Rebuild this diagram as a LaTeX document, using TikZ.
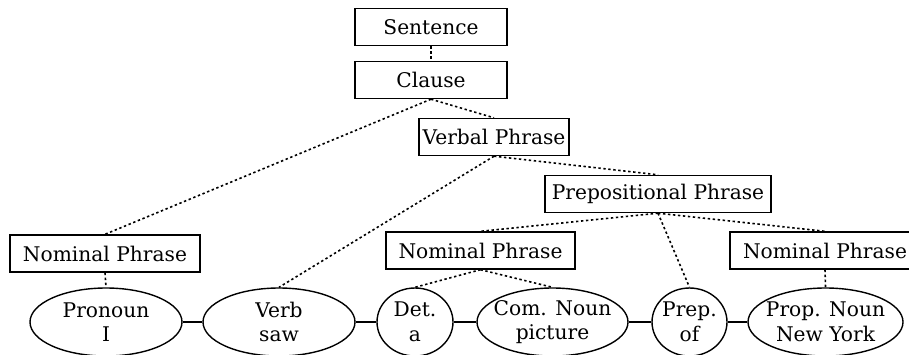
\documentclass[tikz,border=0pt]{standalone}
\usepackage{fontspec}
\setmainfont{DejaVu Serif}
\usetikzlibrary{shapes.geometric}
\newcommand{\zw}[1]{\makebox[0pt]{#1}}
\begin{document}
\begin{tikzpicture}[x=1pt,y=-1pt,
  every node/.style={font=\fontsize{20.2}{24.5}\selectfont, inner sep=0pt},
  phrase/.style={draw, line width=1.4pt, minimum height=37pt},
  word/.style={draw, ellipse, line width=1.4pt, minimum height=68pt, align=center},
  tree/.style={line width=1.6pt, dash pattern=on 2.4pt off 2.6pt},
  link/.style={line width=1.4pt}]
\useasboundingbox (0,0) rectangle (909,354);
\node[phrase, minimum width=152pt] (s) at (431,27) {Sentence};
\node[phrase, minimum width=152pt] (c) at (431,80) {Clause};
\node[phrase, minimum width=150pt] (vp) at (494,137) {Verbal Phrase};
\node[phrase, minimum width=226pt] (pp) at (658,194) {Prepositional Phrase};
\node[phrase, minimum width=190pt] (np1) at (105,253.5) {Nominal Phrase};
\node[phrase, minimum width=189pt] (np2) at (480.5,250.5) {Nominal Phrase};
\node[phrase, minimum width=190pt] (np3) at (825,250.5) {Nominal Phrase};
\node[word, minimum width=152pt] (pron) at (106,322) {\zw{Pronoun}\\\zw{I}};
\node[word, minimum width=152pt] (verb) at (279,322) {\zw{Verb}\\\zw{saw}};
\node[word, minimum width=76pt] (det) at (415,322) {\zw{Det.}\\\zw{a}};
\node[word, minimum width=151pt] (cn) at (552.5,322) {\zw{Com. Noun}\\\zw{picture}};
\node[word, minimum width=75pt] (prep) at (689.5,322) {\zw{Prep.}\\\zw{of}};
\node[word, minimum width=155pt] (prn) at (825.5,322) {\zw{Prop. Noun}\\\zw{New York}};
\draw[tree] (s.south) -- (c.north);
\draw[tree] (c.south) -- (vp.north);
\draw[tree] (c.south) -- (np1.north);
\draw[tree] (vp.south) -- (verb.north);
\draw[tree] (vp.south) -- (pp.north);
\draw[tree] (pp.south) -- (np2.north);
\draw[tree] (pp.south) -- (prep.north);
\draw[tree] (pp.south) -- (np3.north);
\draw[tree] (np1.south) -- (pron.north);
\draw[tree] (np2.south) -- (det.north);
\draw[tree] (np2.south) -- (cn.north);
\draw[tree] (np3.south) -- (prn.north);
\draw[link] (pron.east) -- (verb.west);
\draw[link] (verb.east) -- (det.west);
\draw[link] (det.east) -- (cn.west);
\draw[link] (cn.east) -- (prep.west);
\draw[link] (prep.east) -- (prn.west);
\end{tikzpicture}
\end{document}
